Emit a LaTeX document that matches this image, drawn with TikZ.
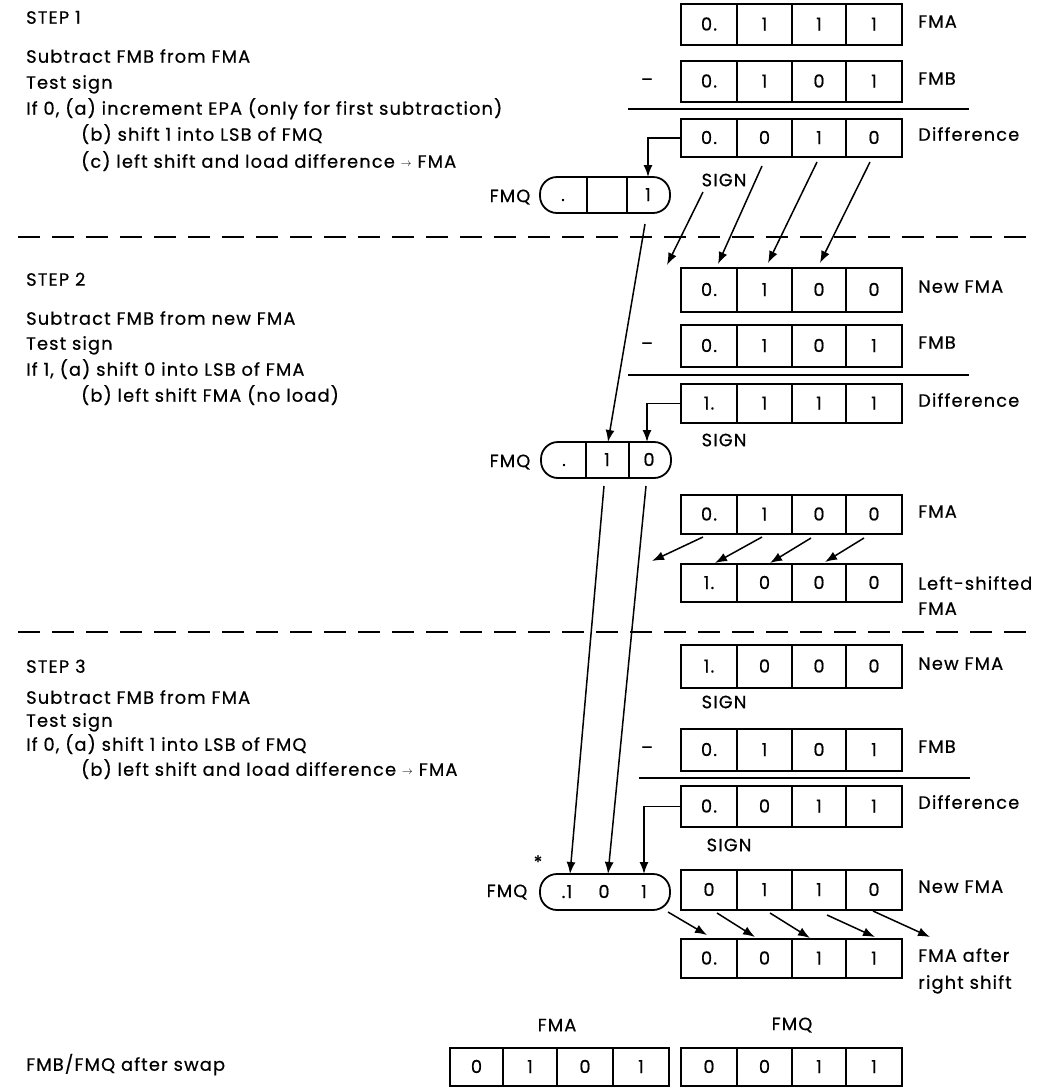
\documentclass[tikz,border=0pt]{standalone}
\usepackage{fontspec}
\setmainfont{Poppins}[LetterSpace=6.5, FakeBold=0.6]
\usetikzlibrary{arrows.meta}
\tikzset{
  cell/.style={draw, line width=1.8pt, inner sep=0pt, text height=12pt, text depth=0pt},
  fmqbox/.style={draw, line width=1.8pt, rounded corners=17pt, minimum width=130pt, minimum height=36pt, inner sep=0pt},
  lbl/.style={anchor=mid west, inner sep=0pt},
  txt/.style={anchor=mid west, inner sep=0pt},
  ctr/.style={inner sep=0pt},
  val/.style={inner sep=0pt, text height=12pt, text depth=0pt},
  arr/.style={line width=1.5pt, -{Latex[length=12pt,width=9pt]}},
  rule/.style={line width=1.4pt},
  sep/.style={line width=1.8pt, dash pattern=on 22pt off 12pt}
}
\newcommand\RegX[4]{\foreach \i/\a/\b/\v in {#4} {\node[cell, minimum width={\b-\a}, minimum height={#3-#2}] (#1-\i) at ({(\a+\b)/2},{(#2+#3)/2}) {\v};}}
\newcommand\Reg[7]{\RegX{#1}{#2}{#3}{1/681/737/#4,2/737/792/#5,3/792/846/#6,4/846/902/#7}}
\newcommand\sarrow{\raisebox{1pt}{\fontsize{11}{11}\selectfont$\rightarrow$}}
\begin{document}
\begin{tikzpicture}[x=1pt, y=-1pt, font=\fontsize{17.8}{20}\selectfont]
\useasboundingbox (0,0) rectangle (1040,1088);
% ---------- left texts ----------
\node[txt] (s1) at (26,21) {STEP 1};
\node[txt] (s1a) at (26,60) {Subtract FMB from FMA};
\node[txt] (s1b) at (26,86) {Test sign};
\node[txt] (s1c) at (26,112) {If 0, (a) increment EPA (only for first subtraction)};
\node[txt] (s1d) at (81,138) {(b) shift 1 into LSB of FMQ};
\node[txt] (s1e) at (81,165) {(c) left shift and load difference \sarrow{} FMA};
\node[txt] (s2) at (26,283) {STEP 2};
\node[txt] (s2a) at (26,322) {Subtract FMB from new FMA};
\node[txt] (s2b) at (26,347) {Test sign};
\node[txt] (s2c) at (26,373) {If 1, (a) shift 0 into LSB of FMA};
\node[txt] (s2d) at (81,399) {(b) left shift FMA (no load)};
\node[txt] (s3) at (26,670) {STEP 3};
\node[txt] (s3a) at (26,701) {Subtract FMB from FMA};
\node[txt] (s3b) at (26,724) {Test sign};
\node[txt] (s3c) at (26,748) {If 0, (a) shift 1 into LSB of FMQ};
\node[txt] (s3d) at (81,773) {(b) left shift and load difference \sarrow{} FMA};
\node[txt] (sw) at (26,1068) {FMB/FMQ after swap};
% ---------- separators ----------
\coordinate (d1a) at (18,237); \coordinate (d1b) at (1030,237);
\coordinate (d2a) at (18,632); \coordinate (d2b) at (1030,632);
\draw[sep] (d1a) -- (d1b);
\draw[sep] (d2a) -- (d2b);
% ---------- STEP 1 registers ----------
\Reg{A1}{4}{45}{0.}{1}{1}{1}
\Reg{B1}{61}{102}{0.}{1}{0}{1}
\Reg{D1}{119}{157}{0.}{0}{1}{0}
\node[lbl] (lA1) at (918,25) {FMA};
\node[lbl] (lB1) at (918,82) {FMB};
\node[lbl] (lD1) at (918,138) {Difference};
\node[ctr] (m1) at (647,82) {--};
\coordinate (u1a) at (628,109); \coordinate (u1b) at (969,109);
\draw[rule] (u1a) -- (u1b);
\node[ctr] (sg1) at (724,180) {SIGN};
% FMQ step 1
\node[ctr] (q1l) at (510,197) {FMQ};
\node[fmqbox] (Q1) at (605,195) {};
\draw[line width=1.8pt] (587,177) -- (587,213) (627,177) -- (627,213);
\node[val] (q1v1) at (563,195) {.};
\node[val] (q1v3) at (648,195) {1};
% ---------- STEP 2 registers ----------
\Reg{A2}{268}{312}{0.}{1}{0}{0}
\Reg{B2}{325}{367}{0.}{1}{0}{1}
\Reg{D2}{384}{423}{1.}{1}{1}{1}
\node[lbl] (lA2) at (918,290) {New FMA};
\node[lbl] (lB2) at (918,346) {FMB};
\node[lbl] (lD2) at (918,404) {Difference};
\node[ctr] (m2) at (647,346) {--};
\coordinate (u2a) at (628,375); \coordinate (u2b) at (969,375);
\draw[rule] (u2a) -- (u2b);
\node[ctr] (sg2) at (724,440) {SIGN};
\node[ctr] (q2l) at (510,462) {FMQ};
\node[fmqbox] (Q2) at (606,460) {};
\draw[line width=1.8pt] (586,442) -- (586,478) (629,442) -- (629,478);
\node[val] (q2v1) at (564,460) {.};
\node[val] (q2v2) at (607,460) {1};
\node[val] (q2v3) at (649,460) {0};
\Reg{A3}{495}{534}{0.}{1}{0}{0}
\Reg{L3}{564}{602}{1.}{0}{0}{0}
\node[lbl] (lA3) at (918,515) {FMA};
\node[lbl] (lL3a) at (918,587) {Left-shifted};
\node[lbl] (lL3b) at (918,612) {FMA};
% ---------- STEP 3 registers ----------
\Reg{A4}{645}{688}{1.}{0}{0}{0}
\node[lbl] (lA4) at (918,667) {New FMA};
\node[ctr] (sg3) at (724,702) {SIGN};
\Reg{B4}{729}{771}{0.}{1}{0}{1}
\node[lbl] (lB4) at (918,750) {FMB};
\node[ctr] (m3) at (647,750) {--};
\coordinate (u3a) at (639,778); \coordinate (u3b) at (970,778);
\draw[rule] (u3a) -- (u3b);
\Reg{D4}{786}{827}{0.}{0}{1}{1}
\node[lbl] (lD4) at (918,806) {Difference};
\node[ctr] (sg4) at (729,845) {SIGN};
\node[ctr] (q3l) at (507,892) {FMQ};
\node[fmqbox] (Q3) at (605,892) {};
\node[val] (q3v1) at (567,892) {.1};
\node[val] (q3v2) at (604,892) {0};
\node[val] (q3v3) at (644,892) {1};
\node[ctr] (ast) at (538,862) {*};
\Reg{A5}{870}{910}{0}{1}{1}{0}
\node[lbl] (lA5) at (918,890) {New FMA};
\Reg{R5}{939}{978}{0.}{0}{1}{1}
\node[lbl] (lR5a) at (918,959) {FMA after};
\node[lbl] (lR5b) at (918,986) {right shift};
% ---------- after swap ----------
\node[ctr] (lbA) at (557,1025) {FMA};
\node[ctr] (lbQ) at (792,1025) {FMQ};
\RegX{SA}{1048}{1086}{1/450/503/0,2/503/557/1,3/557/613/0,4/613/669/1}
\Reg{SQ}{1048}{1086}{0}{0}{1}{1}
% ---------- connectors ----------
\coordinate (q1in) at (648,177);
\coordinate (q2in) at (647,442);
\coordinate (q3in) at (644,874);
\draw[arr] (D1-1.west) -| (q1in);
\draw[arr] (D2-1.west) -| (q2in);
\draw[arr] (D4-1.west) -| (q3in);
% step1 left shift into new FMA
\coordinate (p1s) at (703,192); \coordinate (p1e) at (667,265);
\coordinate (p2s) at (762,166); \coordinate (p2e) at (718,264);
\coordinate (p3s) at (817,162); \coordinate (p3e) at (768,263);
\coordinate (p4s) at (870,162); \coordinate (p4e) at (820,263);
\draw[arr] (p1s) -- (p1e);
\draw[arr] (p2s) -- (p2e);
\draw[arr] (p3s) -- (p3e);
\draw[arr] (p4s) -- (p4e);
% long FMQ transfers
\coordinate (t1s) at (645,224); \coordinate (t1e) at (608,442);
\coordinate (t2s) at (604,486); \coordinate (t2e) at (570,874);
\coordinate (t3s) at (646,486); \coordinate (t3e) at (608,874);
\draw[arr] (t1s) -- (t1e);
\draw[arr] (t2s) -- (t2e);
\draw[arr] (t3s) -- (t3e);
% step2 left shift
\coordinate (l1s) at (703,537); \coordinate (l1e) at (652,561);
\coordinate (l2s) at (762,537); \coordinate (l2e) at (715,563);
\coordinate (l3s) at (811,538); \coordinate (l3e) at (770,563);
\coordinate (l4s) at (864,538); \coordinate (l4e) at (825,562);
\draw[arr] (l1s) -- (l1e);
\draw[arr] (l2s) -- (l2e);
\draw[arr] (l3s) -- (l3e);
\draw[arr] (l4s) -- (l4e);
% step3 right shift
\coordinate (r1s) at (668,912); \coordinate (r1e) at (707,935);
\coordinate (r2s) at (717,913); \coordinate (r2e) at (755,937);
\coordinate (r3s) at (770,913); \coordinate (r3e) at (810,938);
\coordinate (r4s) at (827,915); \coordinate (r4e) at (875,937);
\coordinate (r5s) at (873,911); \coordinate (r5e) at (930,937);
\draw[arr] (r1s) -- (r1e);
\draw[arr] (r2s) -- (r2e);
\draw[arr] (r3s) -- (r3e);
\draw[arr] (r4s) -- (r4e);
\draw[arr] (r5s) -- (r5e);
\end{tikzpicture}
\end{document}
